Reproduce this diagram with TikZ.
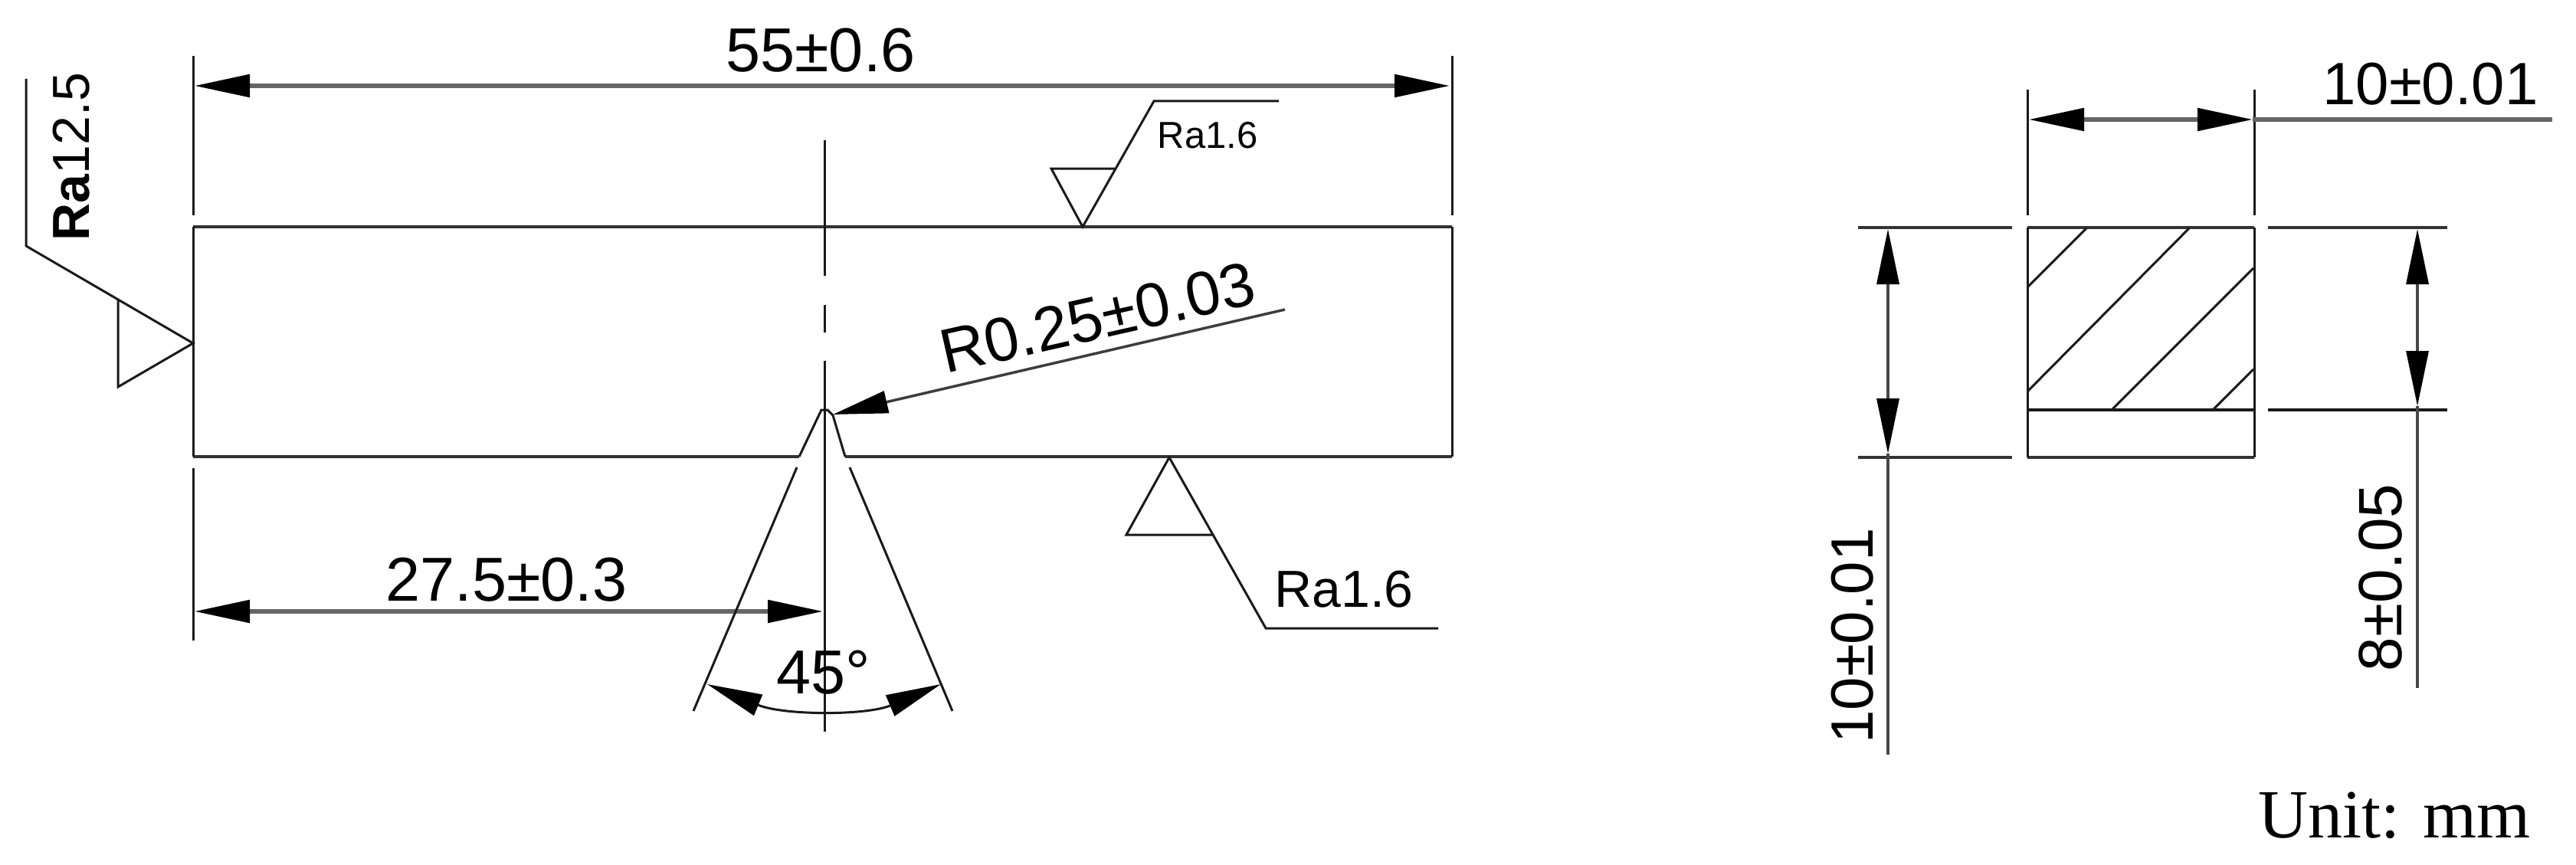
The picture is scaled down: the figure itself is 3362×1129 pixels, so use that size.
\documentclass[tikz,border=0pt]{standalone}
\usepackage{fontspec}
\setmainfont{Liberation Sans}
\newfontfamily\unitfont{Liberation Serif}
\usetikzlibrary{arrows.meta}
\definecolor{thinc}{HTML}{1A1A1A}
\definecolor{dimc}{HTML}{666666}
\definecolor{edgec}{HTML}{333333}
\tikzset{
  thinline/.style={draw=thinc,line width=3pt},
  edgeline/.style={draw=edgec,line width=4.4pt},
  dimline/.style={draw=dimc,line width=5.5pt},
  vdim/.style={draw=dimc!70!black,line width=3.4pt},
  headA/.style={-{Triangle[length=72pt,width=29pt,color=black]}},
  headB/.style={{Triangle[length=72pt,width=29pt,color=black]}-{Triangle[length=72pt,width=29pt,color=black]}},
  txt/.style={inner sep=0pt,outer sep=0pt,anchor=base,text=black,font=\fontsize{#1}{#1}\selectfont},
}
\begin{document}
\begin{tikzpicture}[x=1pt,y=-1pt]
\useasboundingbox[fill=white] (0,0) rectangle (3362,1129);
% ---- main bar
\coordinate (tl) at (252,296);
\coordinate (tr) at (1895,296);
\coordinate (br) at (1895,596);
\coordinate (bl) at (252,596);
\coordinate (n1) at (1043,596);
\coordinate (n2) at (1072,535);
\coordinate (n3) at (1080,535);
\coordinate (n4) at (1087,542);
\coordinate (n5) at (1103,596);
\draw[edgeline] (bl) -- (n1);
\draw[edgeline] (n5) -- (br);
\draw[edgeline] (tl) -- (tr);
\draw[thinline] (tl) -- (bl);
\draw[thinline] (tr) -- (br);
\draw[thinline] (n1) -- (n2) -- (n3) -- (n4) -- (n5);
% centre line
\coordinate (c1) at (1076,183);
\coordinate (c2) at (1076,360);
\coordinate (c3) at (1076,398);
\coordinate (c4) at (1076,434);
\coordinate (c5) at (1076,471);
\coordinate (c6) at (1076,955);
\draw[thinline] (c1) -- (c2);
\draw[thinline] (c3) -- (c4);
\draw[thinline] (c5) -- (c6);
% 55 dimension
\coordinate (e1) at (252,73);
\coordinate (e2) at (252,281);
\coordinate (e3) at (1895,73);
\coordinate (e4) at (1895,281);
\coordinate (d1) at (254,112);
\coordinate (d2) at (1892,112);
\draw[thinline] (e1) -- (e2);
\draw[thinline] (e3) -- (e4);
\draw[dimline,headB] (d1) -- (d2);
\node[txt=81] (t55) at (1071,94) {55±0.6};
% 27.5 dimension
\coordinate (e5) at (252,611);
\coordinate (e6) at (252,836);
\coordinate (d3) at (254,798);
\coordinate (d4) at (1074,798);
\draw[thinline] (e5) -- (e6);
\draw[dimline,headB] (d3) -- (d4);
\node[txt=81] (t27) at (661,784) {27.5±0.3};
% 45 degree
\coordinate (a1) at (1040,610);
\coordinate (a2) at (905,928);
\coordinate (a3) at (1109,610);
\coordinate (a4) at (1243,928);
\coordinate (a5) at (923,893);
\coordinate (a6) at (1228,893);
\draw[thinline] (a1) -- (a2);
\draw[thinline] (a3) -- (a4);
\draw[thinline,headB] (a5) .. controls (1023,934) and (1131,934) .. (a6);
\node[txt=81] (t45) at (1075,905) {45°};
% R0.25 leader
\coordinate (r1) at (1677,404);
\coordinate (r2) at (1087,541);
\draw[thinline,draw=dimc!60!black,line width=3.5pt,headA] (r1) -- (r2);
\node[txt=81,rotate=12.7] (tr025) at (1438,442) {R0.25±0.03};
% Ra12.5
\coordinate (s1) at (34,103);
\coordinate (s2) at (34,321);
\coordinate (s3) at (252,448);
\coordinate (s4) at (154,390);
\coordinate (s5) at (154,505);
\draw[thinline] (s1) -- (s2) -- (s3) -- (s5) -- (s4);
\node[txt=68,rotate=90] (tra) at (116,205) {\textbf{Ra}12.5};
% Ra1.6 upper
\coordinate (u1) at (1413,296);
\coordinate (u2) at (1372,220);
\coordinate (u3) at (1455,220);
\coordinate (u4) at (1506,132);
\coordinate (u5) at (1669,132);
\draw[thinline] (u5) -- (u4) -- (u1) -- (u2) -- (u3);
\node[txt=49] (tu) at (1576,193) {Ra1.6};
% Ra1.6 lower
\coordinate (l1) at (1526,597);
\coordinate (l2) at (1470,698);
\coordinate (l3) at (1582,698);
\coordinate (l4) at (1652,820);
\coordinate (l5) at (1877,820);
\draw[thinline] (l5) -- (l4) -- (l1) -- (l2) -- (l3);
\node[txt=68] (tl16) at (1754,792) {Ra1.6};
% ---- section
\coordinate (q1) at (2646,297);
\coordinate (q2) at (2942,297);
\coordinate (q3) at (2942,597);
\coordinate (q4) at (2646,597);
\coordinate (q5) at (2646,535);
\coordinate (q6) at (2942,535);
\draw[edgeline] (q1) -- (q2);
\draw[edgeline] (q4) -- (q3);
\draw[thinline,line width=3.4pt] (q5) -- (q6);
\draw[thinline] (q1) -- (q4);
\draw[thinline] (q2) -- (q3);
% hatching
\coordinate (h1) at (2646,375);
\coordinate (h2) at (2723,298);
\coordinate (h3) at (2646,511);
\coordinate (h4) at (2857,298);
\coordinate (h5) at (2757,534);
\coordinate (h6) at (2941,350);
\coordinate (h7) at (2889,534);
\coordinate (h8) at (2941,482);
\draw[thinline] (h1) -- (h2);
\draw[thinline] (h3) -- (h4);
\draw[thinline] (h5) -- (h6);
\draw[thinline] (h7) -- (h8);
% 10 width dimension
\coordinate (w1) at (2646,117);
\coordinate (w2) at (2646,281);
\coordinate (w3) at (2942,117);
\coordinate (w4) at (2942,281);
\coordinate (w5) at (2648,156);
\coordinate (w6) at (2940,156);
\coordinate (w7) at (3331,156);
\draw[thinline] (w1) -- (w2);
\draw[thinline] (w3) -- (w4);
\draw[dimline] (w6) -- (w7);
\draw[dimline,headB] (w5) -- (w6);
\node[txt=78] (t10a) at (3172,137) {10±0.01};
% left extension and height dimension
\coordinate (x1) at (2425,297);
\coordinate (x2) at (2626,297);
\coordinate (x3) at (2425,597);
\coordinate (x4) at (2626,597);
\coordinate (y1) at (2464,299);
\coordinate (y2) at (2464,592);
\coordinate (y3) at (2464,985);
\draw[edgeline] (x1) -- (x2);
\draw[edgeline] (x3) -- (x4);
\draw[vdim] (y2) -- (y3);
\draw[vdim,headB] (y1) -- (y2);
\node[txt=78,rotate=90] (t10b) at (2444,830) {10±0.01};
% right extension and 8 dimension
\coordinate (x5) at (2960,297);
\coordinate (x6) at (3194,297);
\coordinate (x7) at (2960,535);
\coordinate (x8) at (3194,535);
\coordinate (z1) at (3155,299);
\coordinate (z2) at (3155,530);
\coordinate (z3) at (3155,898);
\draw[edgeline] (x5) -- (x6);
\draw[thinline,line width=3.4pt] (x7) -- (x8);
\draw[vdim] (z2) -- (z3);
\draw[vdim,headB] (z1) -- (z2);
\node[txt=80,rotate=90] (t8) at (3134,754) {8±0.05};
% unit
\node[txt=90,font=\fontsize{90}{90}\unitfont] (tunit) at (3125,1093) {Unit: mm};
\end{tikzpicture}
\end{document}
